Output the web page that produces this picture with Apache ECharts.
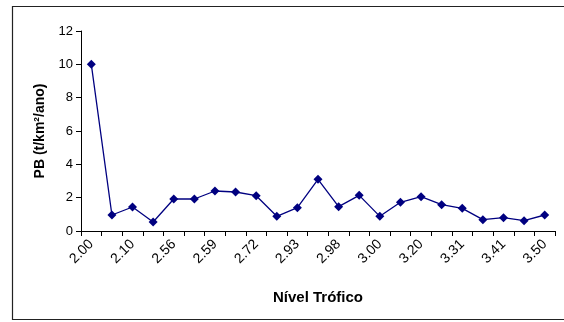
<!DOCTYPE html>
<html>
<head>
<meta charset="utf-8">
<script src="https://cdn.jsdelivr.net/npm/echarts@6/dist/echarts.min.js"></script>
<style>
  html, body { margin: 0; padding: 0; background: #fff; }
  #chart { width: 564px; height: 322px; }
</style>
</head>
<body>
<div id="chart"></div>
<script>
// Trophic levels shown on the axis (every other category carries a label)
const tickLabels = ['2.00', '2.10', '2.56', '2.59', '2.72', '2.93', '2.98', '3.00', '3.20', '3.31', '3.41', '3.50'];
// 23 categories: labelled ones at even positions, unlabelled ones in between
const categories = [];
tickLabels.forEach((t, i) => {
  categories.push(t);
  if (i < tickLabels.length - 1) categories.push('');
});
// P/B ratio (t/km²/ano) per trophic level
const pbValues = [10.0, 0.96, 1.44, 0.54, 1.92, 1.92, 2.40, 2.34, 2.12, 0.88, 1.40, 3.10,
                  1.46, 2.14, 0.88, 1.72, 2.06, 1.58, 1.36, 0.68, 0.80, 0.62, 0.96];
const yTicks = { min: 0, max: 12, interval: 2 };

const chart = echarts.init(document.getElementById('chart'), null, { renderer: 'canvas' });
chart.setOption({
  animation: false,
  backgroundColor: '#ffffff',
  graphic: [{
    type: 'rect',
    shape: { x: 12.5, y: 6.5, width: 560, height: 313 },
    style: { fill: 'none', stroke: '#222', lineWidth: 1.2 },
    silent: true
  }],
  grid: { left: 81, right: 9, top: 31, bottom: 91, containLabel: false },
  xAxis: {
    type: 'category',
    data: categories,
    boundaryGap: true,
    name: 'Nível Trófico',
    nameLocation: 'middle',
    nameGap: 59,
    nameTextStyle: { fontFamily: 'Liberation Sans, Arial', fontWeight: 'bold', fontSize: 15, color: '#000' },
    axisLine: { lineStyle: { color: '#000', width: 1 } },
    axisTick: { show: true, interval: 0, length: 5, lineStyle: { color: '#000' } },
    axisLabel: {
      interval: 0,
      rotate: 45,
      margin: 11,
      fontFamily: 'Liberation Sans, Arial',
      fontSize: 14,
      color: '#000'
    },
    splitLine: { show: false }
  },
  yAxis: {
    type: 'value',
    min: yTicks.min,
    max: yTicks.max,
    interval: yTicks.interval,
    name: 'PB (t/km²/ano)',
    nameLocation: 'middle',
    nameGap: 34,
    nameTextStyle: { fontFamily: 'Liberation Sans, Arial', fontWeight: 'bold', fontSize: 14, color: '#000' },
    axisLine: { show: true, lineStyle: { color: '#000', width: 1 } },
    axisTick: { show: true, length: 5, lineStyle: { color: '#000' } },
    axisLabel: { margin: 8, fontFamily: 'Liberation Sans, Arial', fontSize: 13, color: '#000' },
    splitLine: { show: false }
  },
  series: [{
    type: 'line',
    data: pbValues,
    symbol: 'diamond',
    symbolSize: 9,
    lineStyle: { color: '#000080', width: 1.3 },
    itemStyle: { color: '#000080' }
  }]
});
</script>
</body>
</html>
